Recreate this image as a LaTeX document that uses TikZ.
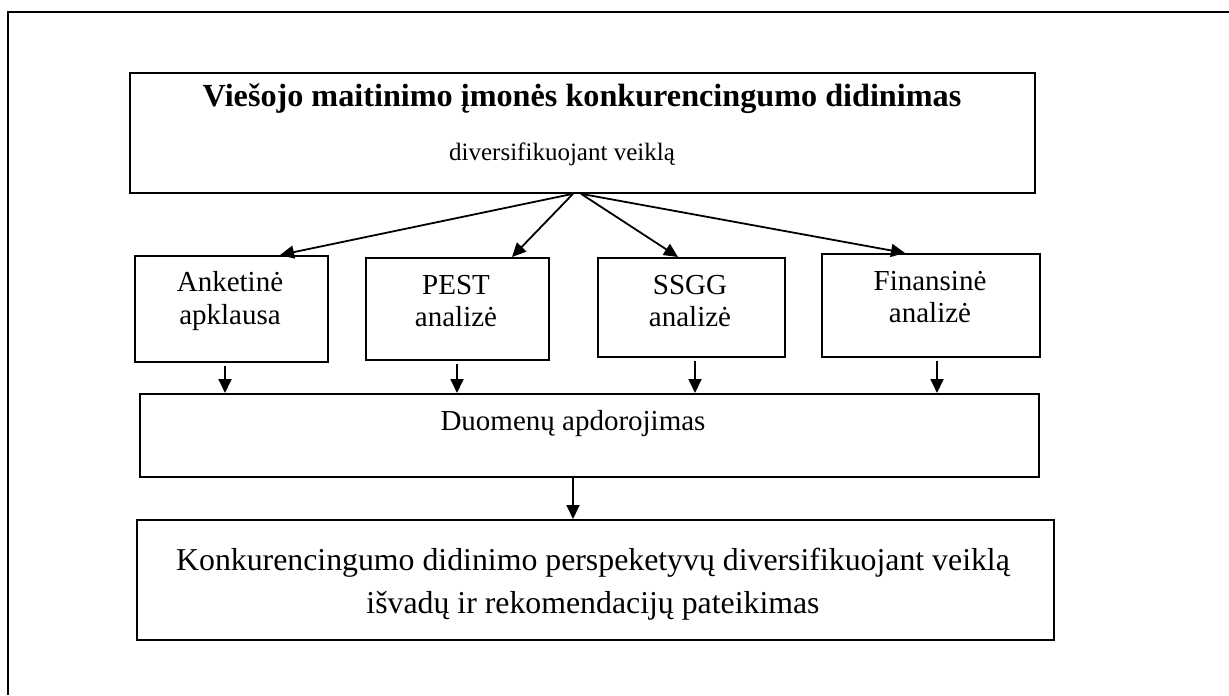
\documentclass[tikz,border=0pt]{standalone}
\usepackage{fontspec}
\setmainfont{Liberation Serif}
\usetikzlibrary{arrows.meta}
\begin{document}
\begin{tikzpicture}[x=0.5pt,y=-0.5pt,
  box/.style={draw, line width=0.9pt, inner sep=0pt, anchor=north west},
  txt/.style={font=\fontsize{14.5}{16.3}\selectfont, align=center, inner sep=0pt},
  ttl/.style={font=\bfseries\fontsize{16.1}{18}\selectfont, inner sep=0pt},
  arr/.style={line width=0.9pt, -{Triangle[length=7pt,width=6.5pt]}},
  frameline/.style={line width=1pt}]
\useasboundingbox (0,0) rectangle (1229,695);
% outer page frame (only top and left edges fall inside the page)
\draw[frameline] (8,695) -- (8,12) -- (1229,12);

% boxes
\node[box, minimum width=452.5pt, minimum height=60pt] (top) at (129,72) {};
\node[box, minimum width=96.5pt, minimum height=53pt] (ank) at (134,255) {};
\node[box, minimum width=91.5pt, minimum height=51pt] (pest) at (365,257) {};
\node[box, minimum width=93.5pt, minimum height=49.5pt] (ssgg) at (597,257) {};
\node[box, minimum width=109pt, minimum height=51.5pt] (fin) at (821,253) {};
\node[box, minimum width=449.5pt, minimum height=41.5pt] (duo) at (139,393) {};
\node[box, minimum width=458.5pt, minimum height=60pt] (res) at (136,519) {};

% texts
\node[ttl, anchor=base] (t1) at (582,107) {Viešojo maitinimo įmonės konkurencingumo didinimas};
\node[txt, font=\fontsize{12.5}{14}\selectfont] (t2) at (562,154) {diversifikuojant veiklą};
\node[txt] (tank) at (230,301) {Anketinė\\apklausa};
\node[txt] (tpest) at (456,301) {PEST\\analizė};
\node[txt] (tssgg) at (690,301) {SSGG\\analizė};
\node[txt] (tfin) at (930,297) {Finansinė\\analizė};
\node[txt] (tduo) at (573,424) {Duomenų apdorojimas};
\node[txt, font=\fontsize{15.9}{21.5}\selectfont] (tres) at (593,584) {Konkurencingumo didinimo perspeketyvų diversifikuojant veiklą\\išvadų ir rekomendacijų pateikimas};

% fan-out arrows from the top box
\coordinate (apexl) at (573,0 |- top.south);
\coordinate (apexr) at (581,0 |- top.south);
\draw[arr] (apexl) -- (280,0 |- ank.north);
\draw[arr] (apexl) -- (512,0 |- pest.north);
\draw[arr] (apexr) -- (678,0 |- ssgg.north);
\draw[arr] (apexr) -- (905,0 |- fin.north);

% arrows into the processing box
\draw[arr, shorten <=1.5pt] (225,0 |- ank.south) -- (225,0 |- duo.north);
\draw[arr, shorten <=1.5pt] (457,0 |- pest.south) -- (457,0 |- duo.north);
\draw[arr, shorten <=1.5pt] (695,0 |- ssgg.south) -- (695,0 |- duo.north);
\draw[arr, shorten <=1.5pt] (937,0 |- fin.south) -- (937,0 |- duo.north);

% arrow to the conclusions box
\draw[arr] (573,0 |- duo.south) -- (573,0 |- res.north);
\end{tikzpicture}
\end{document}
